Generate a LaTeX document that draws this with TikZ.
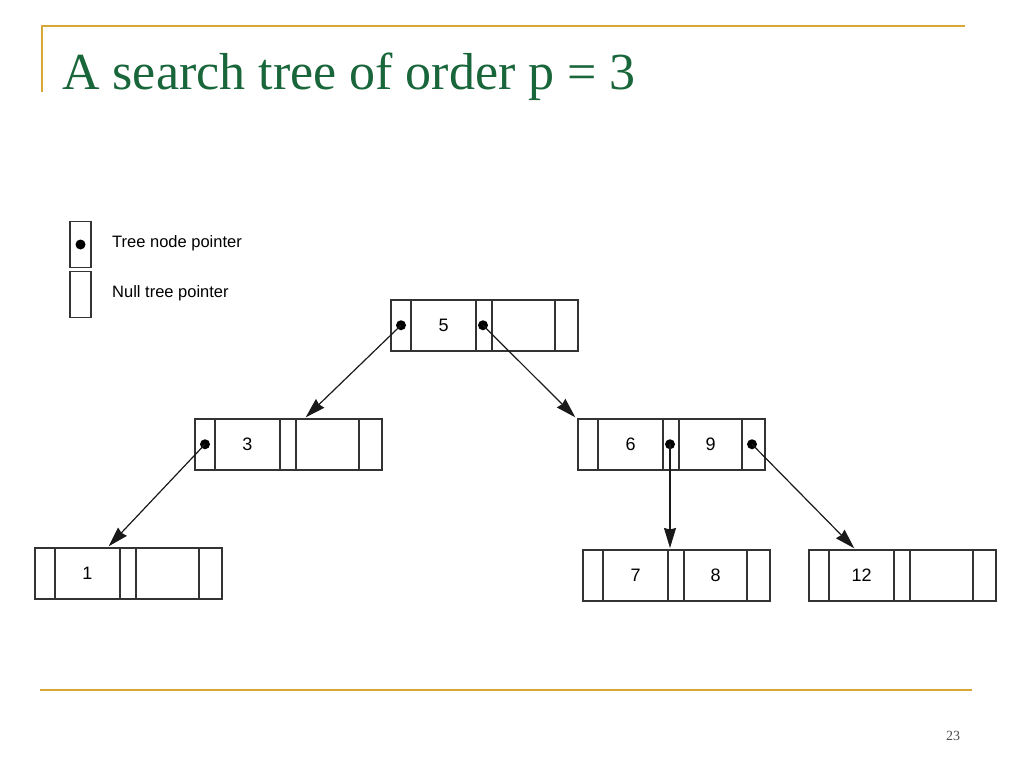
\documentclass[tikz,border=0pt]{standalone}
\usepackage{fontspec}
\setmainfont{Liberation Serif}
\newfontfamily\helv{Liberation Sans}
\usepackage{xcolor}
\usepackage{tikz}
\usetikzlibrary{arrows}
\usetikzlibrary{arrows.meta}
\usetikzlibrary{calc}
\usetikzlibrary{positioning}
\definecolor{slidegold}{RGB}{214,168,52}
\definecolor{slidegreen}{RGB}{24,102,58}

\begin{document}
\begin{tikzpicture}[
    x=1pt, y=-1pt,
    record/.style={draw=black!80, line width=1.5pt, minimum width=187pt,
      minimum height=51pt, inner sep=0pt, anchor=north west},
    cellline/.style={draw=black!80, line width=1.5pt},
    legbox/.style={draw=black!80, line width=1.5pt, minimum width=21pt,
      minimum height=46pt, inner sep=0pt},
    key/.style={font=\helv\fontsize{18}{18}\selectfont},
    legtext/.style={font=\helv\fontsize{16.5}{16.5}\selectfont, anchor=west, inner sep=0pt},
    dot/.style={circle, fill=black, inner sep=0pt, minimum size=10pt},
    ptr/.style={-{Stealth[length=20pt,width=12pt,inset=1.5pt]}, line width=1.2pt,
      draw=black!90, shorten >=1pt}]

    \useasboundingbox (0,0) rectangle (1024,768);

    \draw [slidegold, line width=1.6pt] (42,92) -- (42,26) -- (965,26);
    \draw [slidegold, line width=1.6pt] (40,690) -- (972,690);
    \node [anchor=base west, inner sep=0pt, text=slidegreen,
      font=\fontsize{52}{52}\selectfont] (title) at (62,89)
    {A search tree of order p = 3};
    \node [text=black!70, font=\fontsize{14}{14}\selectfont] (page) at (953,736) {23};

    \node [legbox] (legptr) at (80.5,244.5) {};
    \node [dot] (legdot) at (legptr.center) {};
    \node [legbox] (legnull) at (80.5,294.5) {};
    \node [legtext] (legptrtext) at (112,243) {Tree node pointer};
    \node [legtext] (legnulltext) at (112,293) {Null tree pointer};

    \foreach \n/\x/\y/\a/\b in {n5/390/299/5/{}, n3/194/418/3/{}, n69/577/418/6/9,
      n1/34/547/1/{}, n78/582/549/7/8, n12/808/549/12/{}} {
      \node [record] (\n) at (\x,\y) {};
      \foreach \d in {21,86,102,165}
        \draw [cellline] ($(\n.north west)+(\d,0)$) -- ($(\n.south west)+(\d,0)$);
      \node [key] (\n-a) at ($(\n.west)+(53.5,0)$) {\a};
      \node [key] (\n-b) at ($(\n.west)+(133.5,0)$) {\b};
      \coordinate (\n-p0) at ($(\n.west)+(11,0)$);
      \coordinate (\n-p1) at ($(\n.west)+(93,0)$);
      \coordinate (\n-p2) at ($(\n.west)+(175,0)$);
    }

    \node [dot] (d5a) at (n5-p0) {};
    \node [dot] (d5b) at (n5-p1) {};
    \node [dot] (d3a) at (n3-p0) {};
    \node [dot] (d69b) at (n69-p1) {};
    \node [dot] (d69c) at (n69-p2) {};

    \draw [ptr] (d5a.center) -- ($(n3.north west)+(111,0)$);
    \draw [ptr] (d5b.center) -- ($(n69.north west)+(-1,0)$);
    \draw [ptr] (d3a.center) -- ($(n1.north west)+(74,0)$);
    \draw [ptr] (d69b.center) -- ($(n78.north west)+(88,0)$);
    \draw [ptr] (d69c.center) -- ($(n12.north west)+(47,0)$);

  \end{tikzpicture}
\end{document}
